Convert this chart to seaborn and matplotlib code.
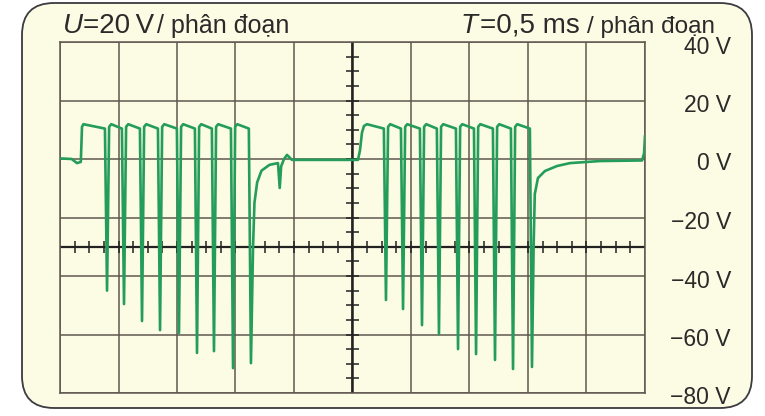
import numpy as np
import pandas as pd
import matplotlib
matplotlib.use('agg')
import matplotlib.pyplot as plt
import seaborn as sns
from matplotlib.patches import FancyBboxPatch

y_ticks = [40, 20, 0, -20, -40, -60, -80]
y_labels = ['40 V', '20 V', '0 V', '\u221220 V', '\u221240 V', '\u221260 V', '\u221280 V']

rise1_t = [0.0, 0.10, 0.145, 0.178, 0.188, 0.20]
rise1_v = [0.2, 0.0, -1.4, -1.0, 11.0, 11.9]
spikes1_t = [0.402, 0.547, 0.701, 0.855, 1.017, 1.171, 1.316, 1.479, 1.632]
spikes1_v = [-45.0, -49.6, -55.4, -58.5, -59.5, -66.3, -65.7, -71.5, -69.8]
recov1_t = [1.650, 1.662, 1.685, 1.722, 1.79, 1.863, 1.878, 1.890, 1.915, 1.94, 1.983]
recov1_v = [-30.0, -15.0, -8.0, -4.0, -2.0, -1.4, -9.9, -2.5, 0.0, 1.4, -0.3]

rise2_t = [2.547, 2.564, 2.581, 2.598, 2.624]
rise2_v = [-0.3, 3.0, 9.0, 11.3, 11.9]
spikes2_t = [2.786, 2.932, 3.094, 3.239, 3.402, 3.556, 3.718, 3.872, 4.034]
spikes2_v = [-48.2, -51.3, -56.8, -59.8, -65.0, -66.7, -68.7, -71.8, -71.1]
recov2_t = [4.048, 4.058, 4.085, 4.145, 4.248, 4.359, 4.615, 4.975, 4.992, 5.0]
recov2_v = [-30.0, -12.0, -6.5, -4.1, -2.4, -1.4, -0.7, -0.5, 2.0, 8.0]

plateau_hi = 11.9
plateau_lo = 10.4


def burst(rise_t, rise_v, spk_t, spk_v, rec_t, rec_v, edge=0.018):
    t = list(rise_t)
    v = list(rise_v)
    for i, (ts, vs) in enumerate(zip(spk_t, spk_v)):
        t += [ts - edge, ts]
        v += [plateau_lo, vs]
        if i < len(spk_t) - 1:
            t += [ts + edge, ts + edge * 2]
            v += [plateau_hi - 0.9, plateau_hi]
    t += list(rec_t)
    v += list(rec_v)
    return t, v


t1, v1 = burst(rise1_t, rise1_v, spikes1_t, spikes1_v, recov1_t, recov1_v)
t2, v2 = burst(rise2_t, rise2_v, spikes2_t, spikes2_v, recov2_t, recov2_v)
df = pd.DataFrame({'t': t1 + t2, 'v': v1 + v2})

sns.set_style('white')
plt.rcParams['font.family'] = ['Liberation Sans', 'DejaVu Sans']

cream = '#fcfbe3'
grid_c = '#5f5750'
green = '#249d5a'
txt_c = '#2a2a2a'

fig = plt.figure(figsize=(7.65, 4.16), dpi=100)

# fundo: moldura arredondada da tela
bg = fig.add_axes([0, 0, 1, 1], zorder=0)
bg.set_xlim(0, 765)
bg.set_ylim(416, 0)
bg.axis('off')
bg.add_patch(FancyBboxPatch((22, 3), 730, 405, boxstyle='round,pad=0,rounding_size=32',
                            facecolor=cream, edgecolor='#3b3b40', lw=1.3))

bg.text(63, 33, 'U', fontsize=20, style='italic', va='baseline', color=txt_c)
bg.text(83, 33, '=20\u2009V', fontsize=20, va='baseline', color=txt_c)
bg.text(157, 33, '/ phân đoạn', fontsize=18, va='baseline', color=txt_c)
bg.text(461, 33, 'T', fontsize=20, style='italic', va='baseline', color=txt_c)
bg.text(480, 33, '=0,5 ms', fontsize=20, va='baseline', color=txt_c)
bg.text(587, 33, '/ phân đoạn', fontsize=17.5, va='baseline', color=txt_c)

ax = fig.add_axes([60 / 765, 23 / 416, 585 / 765, 351 / 416], zorder=1)
ax.patch.set_alpha(0)
ax.set_xlim(0, 5)
ax.set_ylim(-80, 40)
ax.set_xticks(np.arange(0, 5.01, 0.5))
ax.set_yticks(y_ticks)
ax.grid(True, color=grid_c, lw=1.1)
ax.tick_params(length=0, labelbottom=False, labelleft=False)
for s in ax.spines.values():
    s.set_color(grid_c)
    s.set_linewidth(1.1)

# eixos centrais com subdivisões
ax.axhline(-30, color='#222', lw=1.6, zorder=2)
ax.axvline(2.5, color='#222', lw=1.8, zorder=2)
ax.vlines(np.arange(0.125, 5, 0.125), -32, -28, color='#222', lw=1.1, zorder=2)
ax.hlines(np.arange(-75, 40, 5), 2.445, 2.555, color='#222', lw=1.1, zorder=2)

sns.lineplot(data=df, x='t', y='v', ax=ax, sort=False, estimator=None,
             color=green, lw=1.9, zorder=3)
ax.set_xlabel('')
ax.set_ylabel('')

for val, lab in zip(y_ticks, y_labels):
    ax.annotate(lab, xy=(1, val), xycoords=('axes fraction', 'data'),
                xytext=(86, -5), textcoords='offset pixels',
                ha='right', va='center', fontsize=16.5, color=txt_c,
                annotation_clip=False)

plt.savefig('out.png', dpi=100, facecolor='white')
plt.close()
